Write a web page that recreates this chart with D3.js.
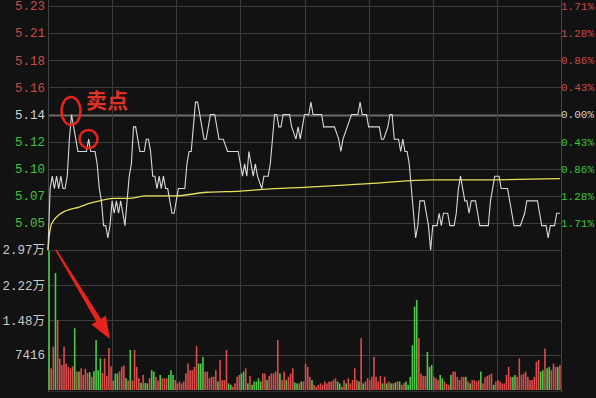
<!DOCTYPE html>
<html><head><meta charset="utf-8">
<script src="https://cdn.jsdelivr.net/npm/d3@7"></script>
<style>html,body{margin:0;padding:0;background:#121212;overflow:hidden}</style>
</head><body>
<svg id="c" width="596" height="398"></svg>
<script>
// ---- data ----
const prevClose = 5.14;
const priceTickValues = [5.228, 5.206, 5.184, 5.162, 5.14, 5.118, 5.096, 5.074, 5.052];
const priceTickLabels = ["5.23","5.21","5.18","5.16","5.14","5.12","5.10","5.07","5.05"];
const pctTickLabels = ["1.71%","1.28%","0.86%","0.43%","0.00%","0.43%","0.86%","1.28%","1.71%"];
const volTickValues = [29700, 22200, 14800, 7416];
const volTickLabels = ["2.97万","2.22万","1.48万","7416"];

// price line key points: [minute, price]
const pricePoints = [[0,5.03],[1,5.08],[2,5.09],[3,5.08],[4,5.09],[5,5.08],[6,5.09],[7,5.08],[8,5.08],[9,5.09],[10,5.12],[11,5.14],[12,5.13],[13,5.12],[14,5.11],[18,5.11],[19,5.12],[20,5.11],[22,5.11],[23,5.10],[24,5.08],[25,5.07],[26,5.05],[27,5.05],[28,5.04],[29,5.05],[30,5.07],[31,5.06],[32,5.07],[33,5.06],[34,5.07],[35,5.06],[36,5.05],[37,5.07],[38,5.09],[39,5.10],[40,5.13],[41,5.13],[42,5.12],[43,5.11],[45,5.11],[46,5.12],[47,5.12],[48,5.11],[49,5.09],[50,5.09],[51,5.08],[52,5.09],[53,5.08],[54,5.09],[55,5.08],[56,5.08],[57,5.07],[58,5.06],[59,5.06],[60,5.07],[61,5.08],[64,5.08],[65,5.10],[66,5.11],[67,5.11],[68,5.13],[69,5.15],[70,5.15],[71,5.14],[72,5.13],[73,5.12],[74,5.12],[75,5.13],[76,5.14],[78,5.14],[79,5.13],[80,5.12],[82,5.12],[84,5.11],[89,5.11],[90,5.10],[91,5.09],[92,5.10],[93,5.09],[94,5.11],[95,5.10],[96,5.09],[97,5.10],[98,5.09],[100,5.08],[101,5.09],[103,5.09],[104,5.10],[105,5.12],[106,5.14],[107,5.14],[108,5.13],[109,5.13],[110,5.14],[113,5.14],[114,5.13],[116,5.12],[117,5.13],[118,5.12],[119,5.13],[120,5.14],[122,5.14],[123,5.15],[124,5.14],[128,5.14],[129,5.13],[134,5.13],[136,5.12],[137,5.11],[138,5.12],[140,5.13],[142,5.14],[145,5.14],[146,5.15],[147,5.14],[149,5.14],[150,5.13],[155,5.13],[156,5.12],[157,5.12],[159,5.13],[160,5.14],[161,5.14],[162,5.12],[164,5.12],[165,5.11],[166,5.12],[167,5.11],[168,5.11],[169,5.10],[170,5.08],[171,5.06],[172,5.04],[173,5.05],[174,5.07],[176,5.07],[177,5.06],[178,5.05],[179,5.03],[180,5.05],[182,5.05],[183,5.06],[184,5.05],[185,5.06],[187,5.06],[188,5.05],[190,5.05],[191,5.06],[192,5.08],[193,5.09],[194,5.08],[195,5.07],[196,5.07],[197,5.06],[198,5.07],[200,5.07],[201,5.06],[202,5.05],[206,5.05],[207,5.07],[208,5.08],[209,5.09],[211,5.09],[212,5.08],[215,5.08],[216,5.07],[217,5.06],[218,5.05],[221,5.05],[223,5.06],[224,5.07],[229,5.07],[230,5.06],[231,5.05],[233,5.05],[234,5.04],[235,5.05],[237,5.05],[238,5.06],[239.5,5.06]];

// average price line key points: [minute, price]
const avgPoints = [[0,5.030],[0.5,5.040],[1.4,5.050],[3,5.055],[5.3,5.059],[8.4,5.062],[14.6,5.065],[19.3,5.068],[24,5.070],[30.3,5.072],[38,5.072],[45.8,5.074],[59,5.074],[74.4,5.077],[90,5.078],[105.7,5.080],[119.8,5.081],[150,5.084],[179.6,5.087],[202,5.087],[239.5,5.088]];

// volume per minute
const volumes = [29500,4600,9200,24800,14800,6700,5300,9200,5600,4900,4600,5000,13100,3900,3900,4600,3200,4500,3600,3800,2800,4000,10600,4200,6700,3600,6700,3000,8900,5000,
2000,3500,3500,4000,4900,5200,2500,2000,8500,2000,8500,4900,2500,1500,3200,1500,1400,2500,4200,3900,
2800,2000,3200,2500,2500,2500,3200,4200,3200,2100,1400,1800,1400,1800,3500,5600,4200,4200,4900,9300,
5600,5600,7000,3900,3900,2500,2800,2800,4200,1800,6400,2100,2100,8500,1400,1100,700,1400,2800,3200,
3500,3900,4600,1400,3000,1100,1800,1800,2500,1800,3500,3500,2100,3000,3500,3500,3900,10600,3500,2100,
3900,2100,2800,3500,4600,1600,1400,1400,1800,1800,5600,4900,2800,2100,1100,700,1100,1400,1100,1800,
1400,1800,1800,2100,2500,1800,1400,700,2100,1400,2500,1400,2100,4600,2100,1800,11000,1400,1800,2500,
2100,2800,7000,2800,1800,3000,1400,2800,1400,1800,1400,1400,1600,1800,1800,1100,1500,1800,1100,2800,
9500,17700,19100,11000,3500,3000,3000,8100,4900,5300,2800,2500,2100,3200,2500,1800,1300,1100,3200,3900,
3900,2800,2100,2800,2800,2800,1800,1400,2100,2100,1800,2100,3900,1400,2700,3000,3200,3500,1100,1800,
2100,1800,1400,1400,3200,4900,2800,2800,3200,2800,6700,3200,3500,3900,2800,2100,2100,2800,6000,6400,
3900,4200,8800,4600,4900,4200,5600,4900,4900,5300];
// bar direction: 1 = up (red), 0 = down (green)
const volUp = [0,1,1,0,1,1,1,1,1,1,1,1,0,1,0,1,1,1,1,0,1,0,0,0,0,1,1,1,1,1,
1,0,0,1,1,1,0,1,0,1,1,1,1,0,1,0,0,1,0,0,
1,1,0,1,1,1,0,0,0,1,1,1,1,1,1,1,1,1,1,1,
0,0,0,1,1,1,1,1,1,0,1,1,1,1,0,0,1,1,1,1,
0,0,1,0,1,0,0,0,0,0,1,1,0,1,1,1,1,1,0,1,
1,0,1,1,1,0,0,1,0,1,1,1,1,0,1,1,1,1,1,1,
1,1,1,1,1,0,0,1,1,0,1,1,1,1,1,0,1,0,1,1,
1,1,1,1,1,1,0,1,0,1,0,1,0,1,0,1,1,0,0,0,
0,0,0,1,1,1,1,0,0,0,1,1,1,0,0,1,1,1,0,1,
1,1,1,1,1,0,1,0,1,1,1,1,0,1,1,1,1,1,0,1,
1,1,1,1,1,1,1,0,0,1,1,1,1,1,1,1,1,1,1,1,
0,0,1,0,0,1,1,1,0,1];

// ---- drawing ----
const svg = d3.select("#c");
svg.append("rect").attr("width",596).attr("height",398).attr("fill","#121212");

const x = d3.scaleLinear().domain([0,240]).range([48,561]);
const span = 0.0879;
const yP = d3.scaleLinear().domain([prevClose-span, prevClose+span]).range([223,6]);
const yV = d3.scaleLinear().domain([0,29700]).range([390,250]);

const grid = svg.append("g");
priceTickValues.forEach((v,i)=>{
  const yy = Math.round(yP(v))+0.5;
  grid.append("line").attr("x1",48).attr("x2",561).attr("y1",yy).attr("y2",yy)
    .attr("stroke", v===prevClose ? "#6a6a6a" : "#3c3c3c").attr("stroke-width", v===prevClose?2.2:1);
});
volTickValues.forEach(v=>{
  const yy = Math.round(yV(v))+0.5;
  grid.append("line").attr("x1",48).attr("x2",561).attr("y1",yy).attr("y2",yy).attr("stroke","#3c3c3c");
});
grid.append("line").attr("x1",48).attr("x2",561).attr("y1",391.5).attr("y2",391.5).attr("stroke","#2e2e2e");
d3.range(0,241,30).forEach(m=>{
  const xx = Math.round(x(m))+0.5;
  grid.append("line").attr("x1",xx).attr("x2",xx).attr("y1",0).attr("y2",392)
    .attr("stroke", (m===0||m===240) ? "#444" : "#3c3c3c");
});

const red="#c94a4a", green="#3fc23f", white="#d0d0d0";
const font = "'Liberation Mono','DejaVu Sans Mono',monospace";
priceTickValues.forEach((v,i)=>{
  const c = v>prevClose?red:(v<prevClose?green:white);
  svg.append("text").attr("x",45).attr("y",yP(v)).attr("dy","0.35em")
    .attr("text-anchor","end").attr("font-family",font).attr("font-size",12.5)
    .attr("fill",c).text(priceTickLabels[i]);
  svg.append("text").attr("x",594).attr("y",yP(v)).attr("dy","0.35em")
    .attr("text-anchor","end").attr("font-family",font).attr("font-size",11)
    .attr("fill",c).text(pctTickLabels[i]);
});
volTickValues.forEach((v,i)=>{
  svg.append("text").attr("x",45).attr("y",yV(v)).attr("dy","0.35em")
    .attr("text-anchor","end").attr("font-family",font+",'Noto Sans CJK SC'").attr("font-size",12.5)
    .attr("fill","#c8c8c8").text(volTickLabels[i]);
});

const bw = 1.6;
svg.append("g").selectAll("rect").data(volumes).join("rect")
  .attr("x",(d,i)=>x(i+0.5)-bw/2)
  .attr("y",d=>yV(d))
  .attr("width",bw)
  .attr("height",d=>390-yV(d))
  .attr("fill",(d,i)=>volUp[i]?"#dd4c4c":"#4cc84c");

svg.append("path").datum(avgPoints)
  .attr("d", d3.line().x(d=>x(d[0])).y(d=>yP(d[1])).curve(d3.curveMonotoneX))
  .attr("fill","none").attr("stroke","#e6e05a").attr("stroke-width",1.3);

svg.append("path").datum(pricePoints)
  .attr("d", d3.line().x(d=>x(d[0])).y(d=>yP(d[1])))
  .attr("fill","none").attr("stroke","#d8d8d8").attr("stroke-width",1.1);

const ann = svg.append("g");
ann.append("ellipse").attr("cx",71).attr("cy",111).attr("rx",9.5).attr("ry",14)
  .attr("fill","none").attr("stroke","#e8231e").attr("stroke-width",2.5);
ann.append("circle").attr("cx",88.5).attr("cy",139).attr("r",9)
  .attr("fill","none").attr("stroke","#e8231e").attr("stroke-width",2.5);
ann.append("text").attr("x",86).attr("y",108).attr("font-family","'Noto Sans CJK SC'")
  .attr("font-weight","bold").attr("font-size",21).attr("fill","#e0302a").text("卖点");

const t0=[56,250], t1=[110,339];
const dx=t1[0]-t0[0], dy=t1[1]-t0[1], L=Math.hypot(dx,dy);
const u=[dx/L,dy/L], n=[-u[1],u[0]];
const hb=[t1[0]-u[0]*22, t1[1]-u[1]*22];
const P=(p,k)=>[p[0]+n[0]*k,p[1]+n[1]*k];
const pts=[P(t0,0.8),P(hb,2.6),P(hb,8.5),t1,P(hb,-8.5),P(hb,-2.6),P(t0,-0.8)];
ann.append("polygon").attr("points",pts.map(p=>p.join(",")).join(" ")).attr("fill","#e8231e");
</script>
</body></html>
